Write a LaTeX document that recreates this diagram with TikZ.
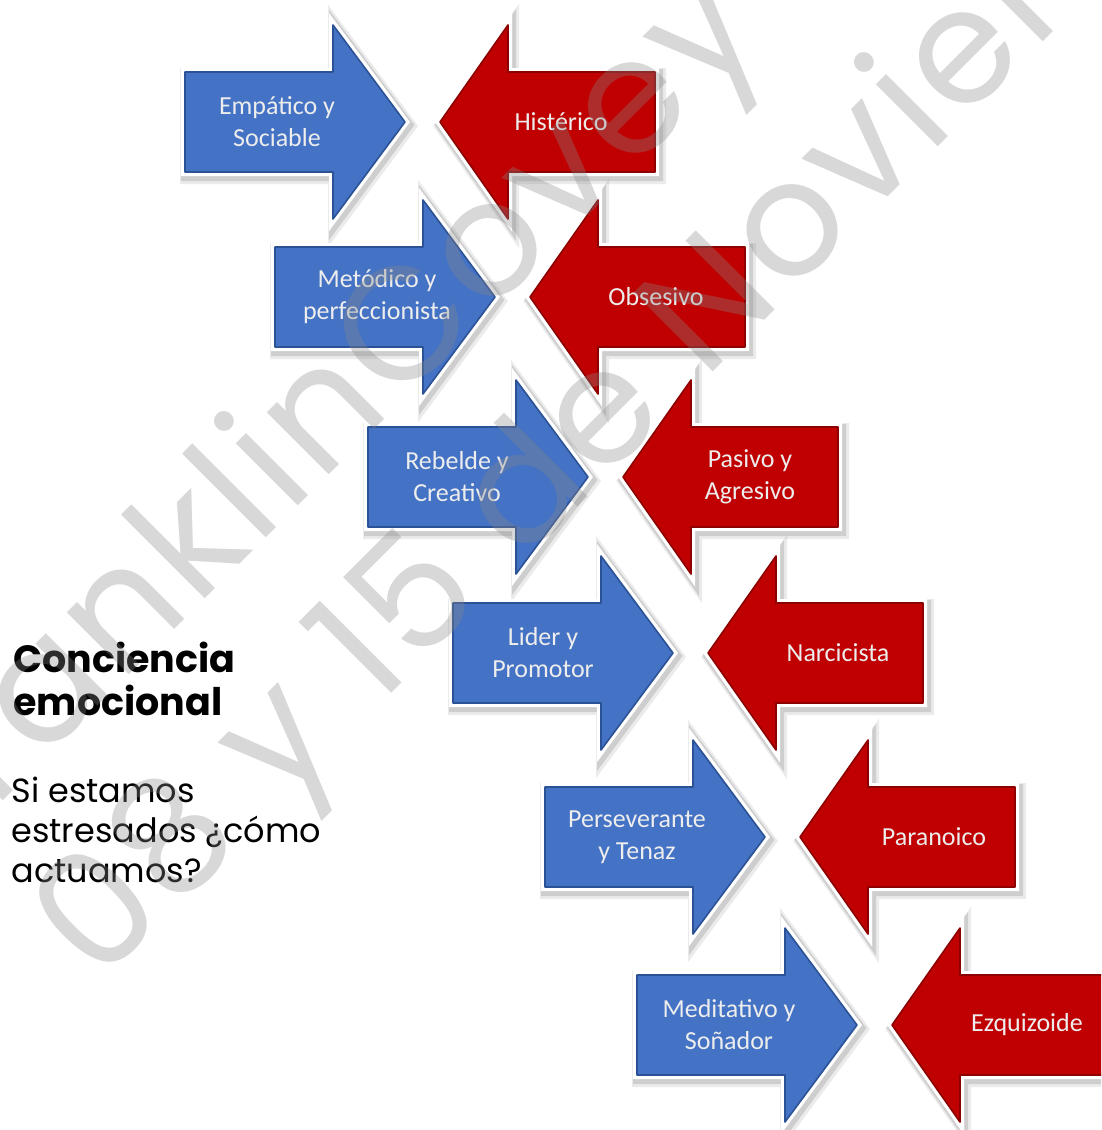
\documentclass[tikz,border=0pt]{standalone}
\usepackage{fontspec}
\usepackage{tikz}
\newfontfamily\arrowfont{Carlito}
\newfontfamily\slidefont{Poppins}
\newfontfamily\markfont[LetterSpace=3]{Poppins}
\definecolor{calmblue}{RGB}{68,114,196}
\definecolor{calmedge}{RGB}{44,82,150}
\definecolor{stressred}{RGB}{192,0,0}
\definecolor{stressedge}{RGB}{140,0,0}
\definecolor{markgray}{RGB}{136,136,136}
\tikzset{
	arrowframe/.style={line join=round,
		preaction={draw=black,opacity=0.08,line width=16pt,transform canvas={shift={(3pt,-4pt)}}},
		preaction={draw=black,opacity=0.12,line width=12pt,transform canvas={shift={(2pt,-3pt)}}},
		preaction={draw=white,line width=8pt}},
	calmarrow/.style={arrowframe,fill=calmblue,postaction={draw=calmedge,line width=1.6pt}},
	stressarrow/.style={arrowframe,fill=stressred,postaction={draw=stressedge,line width=1.6pt}},
	arrowtext/.style={align=center,text=white!93!black,font=\arrowfont\fontsize{26}{32}\selectfont},
	slidetext/.style={anchor=base west,font=\slidefont\fontsize{33.5}{40}\selectfont},
	slidehead/.style={anchor=base west,font=\slidefont\bfseries\fontsize{38}{43}\selectfont},
	watermark/.style={anchor=base west,rotate=45,text=markgray,opacity=0.33,font=\markfont\fontsize{160}{160}\selectfont}
}
\begin{document}
\begin{tikzpicture}[x=1pt,y=-1pt]
			\useasboundingbox (0,0) rectangle (1101,1130);
			\begin{scope}
			\clip (0,0) rectangle (1101,1130);
			\foreach \L/\C/\B/\R/\good/\bad/\n in {185/122/277/561/{Empático y\\Sociable}/{Histérico}/1,
				275/297/377/656/{Metódico y\\perfeccionista}/{Obsesivo}/2,
				368/477/457/750/{Rebelde y\\Creativo}/{Pasivo y\\Agresivo}/3,
				453/653/543/838/{Lider y\\Promotor}/{Narcicista}/4,
				545/837/637/934/{Perseverante\\y Tenaz}/{Paranoico}/5,
				637/1025/729/1027/{Meditativo y\\Soñador}/{Ezquizoide}/6}{
				\path[calmarrow] (\L,\C-50) -- (\L+148,\C-50) -- (\L+148,\C-97) -- (\L+220,\C) -- (\L+148,\C+97) -- (\L+148,\C+50) -- (\L,\C+50) -- cycle;
				\path[stressarrow] (\L+255,\C) -- (\L+323,\C-97) -- (\L+323,\C-50) -- (\L+470,\C-50) -- (\L+470,\C+50) -- (\L+323,\C+50) -- (\L+323,\C+97) -- cycle;
				\node[arrowtext] (good\n) at (\B,\C) {\good};
				\node[arrowtext] (bad\n) at (\R,\C) {\bad};
			}
			\node[slidehead] (head1) at (10,672) {Conciencia};
			\node[slidehead] (head2) at (10,715) {emocional};
			\node[slidetext] (ask1) at (8,802) {Si estamos};
			\node[slidetext] (ask2) at (8,842) {estresados ¿cómo};
			\node[slidetext] (ask3) at (8,882) {actuamos?};
			\node[watermark] (mark1) at (-68,872) {FranklinCovey C};
			\node[watermark] (mark2) at (97,988) {08 y 15 de Noviembre};
			\end{scope}
		\end{tikzpicture}
\end{document}
